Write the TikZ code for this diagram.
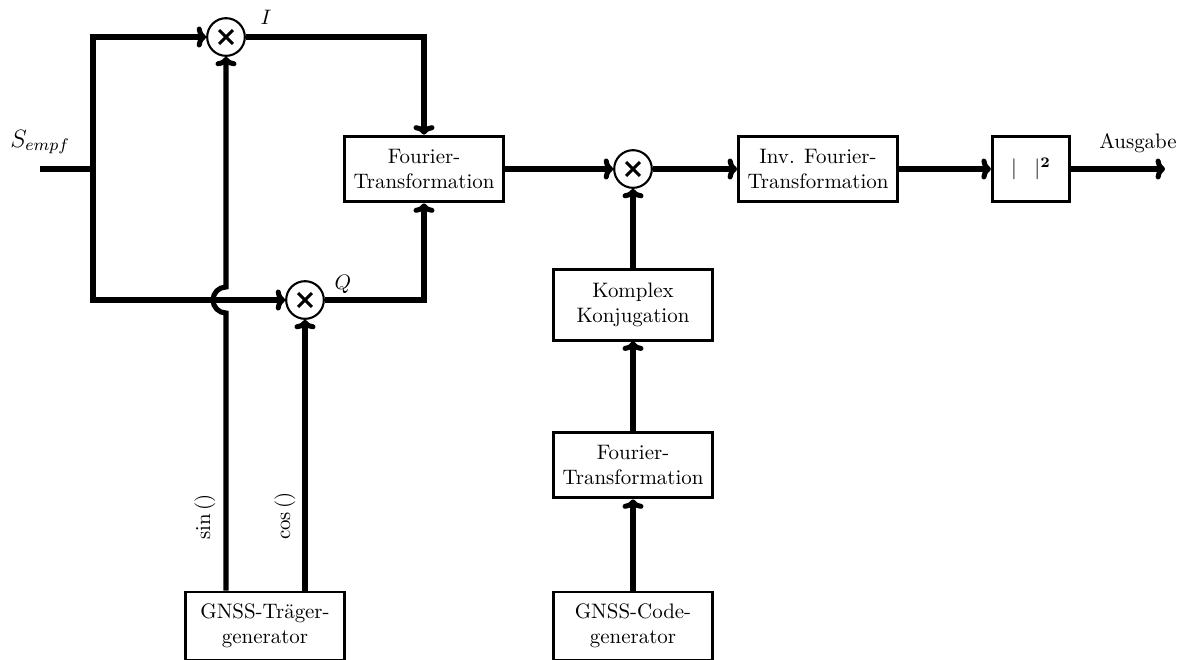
\documentclass[tikz,border=0pt]{standalone}
\usetikzlibrary{arrows.meta,calc}
\tikzset{
  sig/.style={line width=2.4pt, -{To[length=4.5pt,width=10pt]}},
  wire/.style={line width=2.4pt},
  blk/.style={draw, line width=1.4pt, align=center, inner sep=2pt,
              minimum width=76pt, minimum height=31.5pt, font=\normalsize},
  mixer/.style={draw, circle, line width=1pt, minimum size=18pt, inner sep=0pt,
                path picture={
                  \draw[line width=1.5pt]
                    ($(path picture bounding box.center)+(-3.3pt,-3.3pt)$) --
                    ($(path picture bounding box.center)+(3.3pt,3.3pt)$)
                    ($(path picture bounding box.center)+(-3.3pt,3.3pt)$) --
                    ($(path picture bounding box.center)+(3.3pt,-3.3pt)$);
                }},
  lbl/.style={inner sep=1pt},
}
\begin{document}
\begin{tikzpicture}[x=0.478pt, y=-0.478pt]
\useasboundingbox (0,0) rectangle (1186,660);

% mixers
\node[mixer] (mI) at (226,37) {};
\node[mixer] (mQ) at (305,300) {};
\node[mixer] (mC) at (633,169) {};

% blocks
\node[blk] (ft1) at (424,169) {Fourier-\\Transformation};
\node[blk] (ift) at (818,169) {Inv. Fourier-\\Transformation};
\node[blk, minimum width=37pt] (abs) at (1031,169) {$|\;\;\;|^{\mathbf{2}}$};
\node[blk, minimum height=33.5pt] (kk) at (633,305) {Komplex\\Konjugation};
\node[blk] (ft2) at (633,465) {Fourier-\\Transformation};
\node[blk, minimum height=32.5pt] (code) at (633,626) {GNSS-Code-\\generator};
\node[blk, minimum height=32.5pt] (gt) at (265,626) {GNSS-Träger-\\generator};

% free ends and crossing point
\coordinate (in) at (40,169);
\coordinate (split) at (93,169);
\coordinate (out) at (1165,169);
\coordinate (jmp) at (226,300);

% input splitting into I and Q branches
\draw[wire] (in) -- (split);
\draw[sig] (split) |- (mI.west);
\draw[sig] (split) |- (mQ.west);
\draw[sig] (mI.east) -| (ft1.north);
\draw[sig] (mQ.east) -| (ft1.south);

% carrier generator outputs, sin line jumps over the Q branch
\draw[sig] (mI |- gt.north) -- ($(jmp)+(0,13)$)
  arc[start angle=90, end angle=270, radius=13] -- (mI.south);
\draw[sig] (mQ |- gt.north) -- (mQ.south);

% main chain
\draw[sig] (ft1.east) -- (mC.west);
\draw[sig] (mC.east) -- (ift.west);
\draw[sig] (ift.east) -- (abs.west);
\draw[sig] (abs.east) -- (out);

% code branch
\draw[sig] (code.north) -- (ft2.south);
\draw[sig] (ft2.north) -- (kk.south);
\draw[sig] (kk.north) -- (mC.south);

% labels
\node[lbl] (lI) at (266,17) {$I$};
\node[lbl] (lQ) at (343,284) {$Q$};
\node[lbl, font=\large] (lS) at (40,142) {$S_{empf}$};
\node[lbl] (lA) at (1138,143) {Ausgabe};
\node[lbl, rotate=90] (lsin) at (205,517) {$\sin\left(\right)$};
\node[lbl, rotate=90] (lcos) at (285,516) {$\cos\left(\right)$};
\end{tikzpicture}
\end{document}
